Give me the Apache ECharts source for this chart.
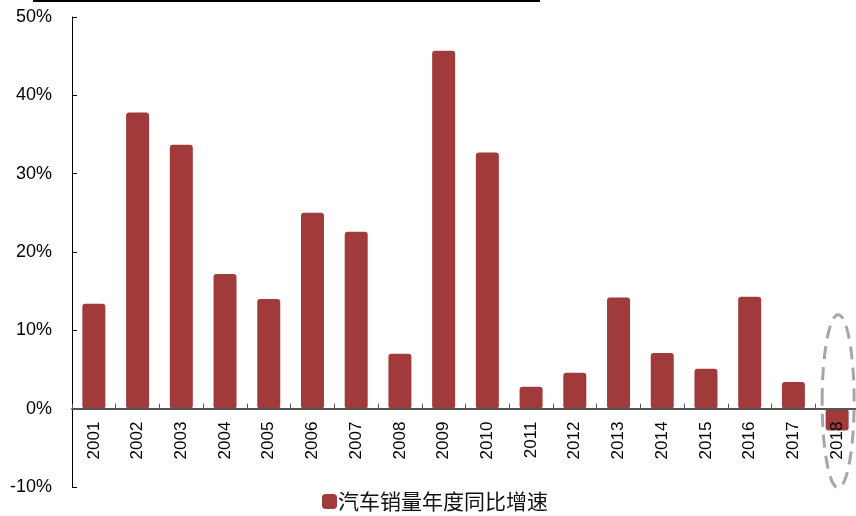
<!DOCTYPE html>
<html>
<head>
<meta charset="utf-8">
<script src="https://cdn.jsdelivr.net/npm/echarts@6/dist/echarts.min.js"></script>
<style>
  html, body { margin: 0; padding: 0; background: #fff; }
  #chart { width: 856px; height: 516px; }
</style>
</head>
<body>
<div id="chart"></div>
<script>
// Year-on-year growth of vehicle sales, %
const years = ['2001','2002','2003','2004','2005','2006','2007','2008','2009',
               '2010','2011','2012','2013','2014','2015','2016','2017','2018'];
const growth = [13.4, 37.8, 33.7, 17.2, 14.0, 25.0, 22.6, 7.0, 45.7,
                32.7, 2.8, 4.6, 14.2, 7.1, 5.1, 14.3, 3.4, -2.8];
const yTicks = { min: -10, max: 50, step: 10 };
const seriesName = '汽车销量年度同比增速';
// vertical span of the highlight ring around the last year, in axis units
const ringSpan = [12, -10.1];

const chart = echarts.init(document.getElementById('chart'), null, { renderer: 'canvas' });
const barColor = '#a03a3b';
const yearLabelGap = 13;

chart.setOption({
  animation: false,
  backgroundColor: '#fff',
  grid: { left: 72, top: 17, bottom: 29, width: 787, containLabel: false, outerBoundsMode: 'none' },
  legend: {
    data: [seriesName],
    bottom: -1,
    left: 317,
    itemWidth: 15,
    itemHeight: 15,
    icon: 'roundRect',
    textStyle: {
      fontFamily: 'Noto Sans CJK SC',
      fontSize: 21,
      color: '#111',
      padding: [0, 0, 0, -4]
    }
  },
  xAxis: {
    type: 'category',
    data: years,
    z: 3,
    axisLine: { onZero: true, lineStyle: { color: '#555', width: 2 } },
    axisTick: { show: true, inside: true, length: 5, alignWithLabel: false, lineStyle: { color: '#555', width: 1 } },
    axisLabel: {
      rotate: 90,
      margin: yearLabelGap,
      fontFamily: 'Liberation Sans',
      fontSize: 17,
      color: '#000'
    },
    splitLine: { show: false }
  },
  yAxis: {
    type: 'value',
    min: yTicks.min,
    max: yTicks.max,
    interval: yTicks.step,
    axisLine: { show: true, lineStyle: { color: '#000', width: 1 } },
    axisTick: { show: true, inside: true, length: 5, lineStyle: { color: '#000' } },
    axisLabel: {
      formatter: '{value}%',
      margin: 20,
      fontFamily: 'Liberation Sans',
      fontSize: 18,
      color: '#000'
    },
    splitLine: { show: false }
  },
  series: [{
    name: seriesName,
    type: 'bar',
    data: growth,
    barWidth: 23,
    itemStyle: { color: barColor, borderRadius: 3 }
  }]
});

// Year labels hang just under the zero line rather than the bottom of the plot
const zeroY = chart.convertToPixel({ yAxisIndex: 0 }, 0);
const floorY = chart.convertToPixel({ yAxisIndex: 0 }, yTicks.min);

// Dashed ring highlighting the latest year, plus the rule along the top edge
const lastYear = years[years.length - 1];
const ringTop = chart.convertToPixel({ gridIndex: 0 }, [lastYear, ringSpan[0]]);
const ringBottom = chart.convertToPixel({ gridIndex: 0 }, [lastYear, ringSpan[1]]);
chart.setOption({
  xAxis: { axisLabel: { margin: yearLabelGap - (floorY - zeroY) } },
  graphic: [
    {
      type: 'line',
      shape: { x1: 33, y1: 1, x2: 540, y2: 1 },
      style: { stroke: '#000', lineWidth: 2 },
      silent: true
    },
    {
      type: 'ellipse',
      shape: {
        cx: ringTop[0] + 1,
        cy: (ringTop[1] + ringBottom[1]) / 2,
        rx: 16,
        ry: (ringBottom[1] - ringTop[1]) / 2
      },
      style: { fill: 'none', stroke: '#a6a6a6', lineWidth: 3, lineDash: [13, 8] },
      silent: true,
      z: 10
    }
  ]
});
</script>
</body>
</html>
